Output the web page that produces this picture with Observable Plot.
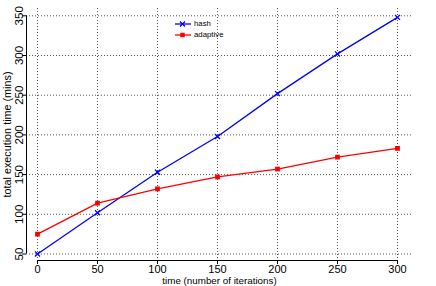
<!DOCTYPE html>
<html><head><meta charset="utf-8">
<script src="https://cdn.jsdelivr.net/npm/d3@7"></script>
<script src="https://cdn.jsdelivr.net/npm/@observablehq/plot@0.6"></script>
<style>
html,body{margin:0;padding:0;background:#fff;}
#chart{position:relative;width:436px;height:286px;font-family:"Liberation Sans",Arial,Helvetica,sans-serif;}
#chart > svg{display:block;}
.legend{position:absolute;left:175px;top:19px;font-size:7.8px;line-height:10.6px;color:#000;}
.legend .row{display:flex;align-items:center;height:10.6px;}
.legend svg{display:block;margin-right:3px;}
</style></head><body><div id="chart"></div>
<script>
const iterations = [0, 50, 100, 150, 200, 250, 300];
const hashTime = [50, 102, 153, 198, 252, 302, 348];
const adaptiveTime = [75, 114, 132, 147, 157, 172, 183];
const seriesNames = ["hash", "adaptive"];
const seriesColors = ["#0000ff", "#ff0000"];
const seriesSymbols = ["times", "square"];
const xTicks = [0, 50, 100, 150, 200, 250, 300];
const yTicks = [50, 100, 150, 200, 250, 300, 350];
const xLabel = "time (number of iterations)";
const yLabel = "total execution time (mins)";

const xDomain = [-9.17, 312.5];
const yDomain = [41.8, 359.2];

const hashData = iterations.map((t, i) => ({t, v: hashTime[i], s: seriesNames[0]}));
const adaptiveData = iterations.map((t, i) => ({t, v: adaptiveTime[i], s: seriesNames[1]}));
const gridStyle = {stroke: "#555", strokeOpacity: 1, strokeDasharray: "1,2", strokeWidth: 1};

const plot = Plot.plot({
  width: 436, height: 286,
  marginLeft: 26, marginRight: 24, marginTop: 8, marginBottom: 26,
  style: {fontFamily: '"Liberation Sans",Arial,Helvetica,sans-serif', fontSize: "11.5px", background: "white", color: "#000", overflow: "visible"},
  x: {domain: xDomain},
  y: {domain: yDomain},
  marks: [
    Plot.gridX(xTicks, gridStyle),
    Plot.gridY(yTicks, gridStyle),
    Plot.ruleX([xDomain[0]], {y1: yTicks[0], y2: yTicks[yTicks.length - 1], stroke: "#000", strokeWidth: 1}),
    Plot.ruleY([yDomain[0]], {x1: xTicks[0], x2: xTicks[xTicks.length - 1], stroke: "#000", strokeWidth: 1}),
    Plot.axisX(xTicks, {tickSize: 4, tickPadding: 1, label: null, fontSize: 11}),
    Plot.axisY(yTicks, {tickSize: 4, tickPadding: 0, tickRotate: -90, textAnchor: "middle", lineAnchor: "bottom", label: null, fontSize: 11.5}),
    Plot.text([yLabel], {text: d => d, frameAnchor: "left", textAnchor: "middle", rotate: -90, dx: -16, lineAnchor: "bottom", fontSize: 10.8}),
    Plot.text([xLabel], {text: d => d, frameAnchor: "bottom", textAnchor: "middle", dy: 23.3, lineAnchor: "bottom", fontSize: 9.8}),
    Plot.line(hashData, {x: "t", y: "v", stroke: seriesColors[0], strokeWidth: 1.3}),
    Plot.line(adaptiveData, {x: "t", y: "v", stroke: seriesColors[1], strokeWidth: 1.3}),
    Plot.dot(hashData, {x: "t", y: "v", symbol: seriesSymbols[0], stroke: seriesColors[0], strokeWidth: 1.3, r: 2.4}),
    Plot.dot(adaptiveData, {x: "t", y: "v", symbol: seriesSymbols[1], fill: seriesColors[1], stroke: "none", r: 2.7})
  ]
});
const chart = document.getElementById("chart");
chart.appendChild(plot);

// legend
const legend = document.createElement("div");
legend.className = "legend";
seriesNames.forEach((name, i) => {
  const row = document.createElement("div");
  row.className = "row";
  const svg = d3.create("svg").attr("width", 16).attr("height", 8);
  svg.append("line").attr("x1", 0).attr("x2", 16).attr("y1", 4).attr("y2", 4)
    .attr("stroke", seriesColors[i]).attr("stroke-width", 1.3);
  const sym = seriesSymbols[i] === "times" ? d3.symbolTimes : d3.symbolSquare;
  const path = svg.append("path").attr("transform", "translate(7.5,4)")
    .attr("d", d3.symbol(sym, seriesSymbols[i] === "times" ? 18 : 20)());
  if (seriesSymbols[i] === "times") path.attr("fill", "none").attr("stroke", seriesColors[i]).attr("stroke-width", 1.3);
  else path.attr("fill", seriesColors[i]);
  row.appendChild(svg.node());
  const span = document.createElement("span");
  span.textContent = name;
  row.appendChild(span);
  legend.appendChild(row);
});
chart.appendChild(legend);
</script>
</body></html>
